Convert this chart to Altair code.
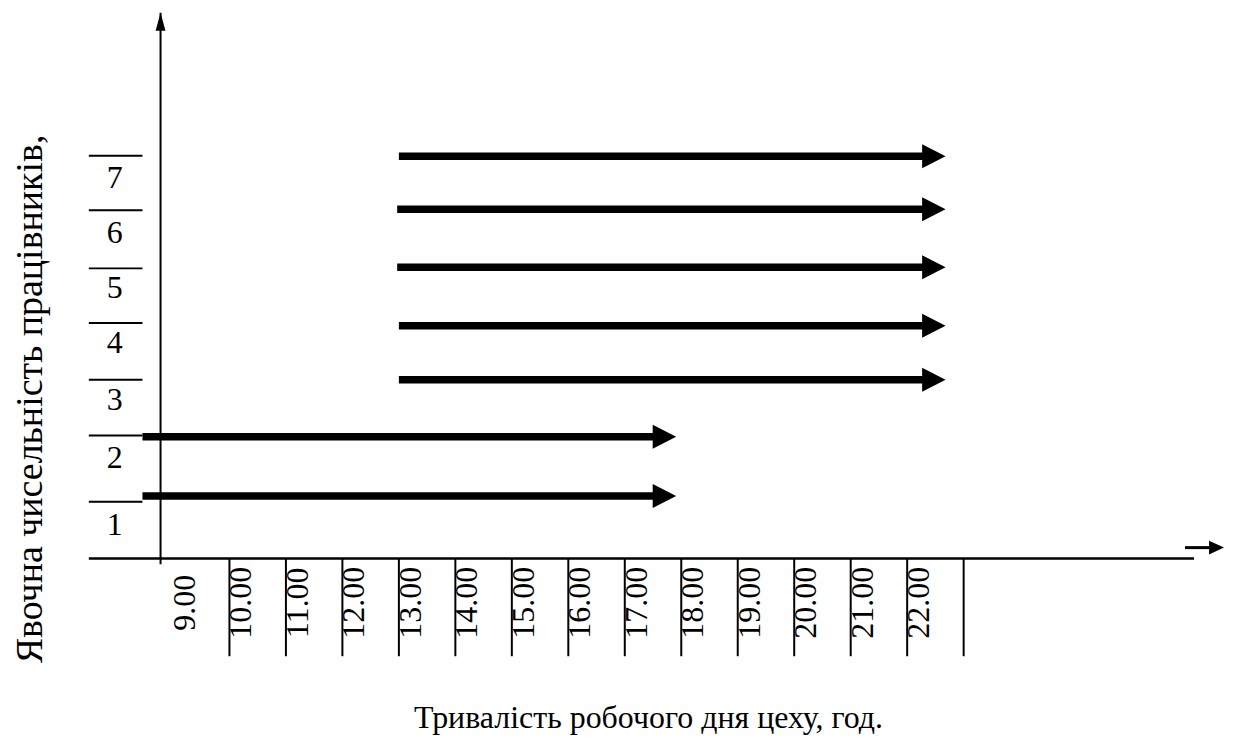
import altair as alt
import pandas as pd

# ---- data ----
row_numbers = ["1", "2", "3", "4", "5", "6", "7"]
row_label_level = [0.59, 1.75, 2.76, 3.75, 4.70, 5.66, 6.63]
row_top_level = [0.99, 2.14, 3.11, 4.10, 5.05, 6.06, 7.01]
arrow_level = [1.09, 2.12, 3.11, 4.05, 5.07, 6.08, 7.00]
arrow_start = [8.46, 8.46, 13.0, 13.0, 12.97, 12.97, 13.0]
arrow_end = [17.91, 17.91, 22.68, 22.68, 22.68, 22.68, 22.68]

hours = list(range(9, 23))
hour_labels = [f"{h}.00" for h in hours]
cell_edges = list(range(10, 24))

axis_left_hour = 7.51
axis_right_hour = 27.08
stub_right_hour = 8.46
y_axis_hour = 8.78
y_axis_bottom = -0.10
y_axis_top = 9.50
cell_bottom = -1.70
hour_label_level = -0.77

x_title = "Тривалість робочого дня цеху, год."
y_title = "Явочна чисельність працівників,"

FONT = "Liberation Serif, Times New Roman, serif"
W, H = 1222, 728

xs = alt.Scale(domain=[6.079, 27.663], nice=False, zero=False)
ys = alt.Scale(domain=[-3.073, 9.566], nice=False, zero=False)


def X(f="x"):
    return alt.X(f"{f}:Q", scale=xs, axis=None)


def Y(f="y"):
    return alt.Y(f"{f}:Q", scale=ys, axis=None)


# horizontal thin lines: x axis and row separators
hlines = pd.DataFrame(
    {"x": [axis_left_hour] * len(row_top_level), "x2": [stub_right_hour] * len(row_top_level), "y": row_top_level}
)
xaxis_df = pd.DataFrame({"x": [axis_left_hour], "x2": [axis_right_hour], "y": [0.0]})
vlines = pd.DataFrame({"x": cell_edges, "y": [0.0] * len(cell_edges), "y2": [cell_bottom] * len(cell_edges)})
yaxis_df = pd.DataFrame({"x": [y_axis_hour], "y": [y_axis_bottom], "y2": [y_axis_top]})

arrows = pd.DataFrame({"x": arrow_start, "x2": arrow_end, "y": arrow_level})
row_lbl = pd.DataFrame({"x": [7.97] * 7, "y": row_label_level, "t": row_numbers})
hour_lbl = pd.DataFrame({"x": hours, "y": [hour_label_level] * len(hours), "t": hour_labels})
small_arrow = pd.DataFrame({"x": [26.92], "x2": [27.61], "y": [0.19]})

row_sep = alt.Chart(hlines).mark_rule(color="black", strokeWidth=2).encode(x=X(), x2="x2:Q", y=Y())
x_axis = alt.Chart(xaxis_df).mark_rule(color="black", strokeWidth=2.5).encode(x=X(), x2="x2:Q", y=Y())
cells = alt.Chart(vlines).mark_rule(color="black", strokeWidth=2).encode(x=X(), y=Y(), y2="y2:Q")
y_axis = alt.Chart(yaxis_df).mark_rule(color="black", strokeWidth=2).encode(x=X(), y=Y(), y2="y2:Q")
y_head = alt.Chart(yaxis_df).mark_point(
    shape="M-0.55,1L0,-1L0.55,1Z", size=324, filled=True, color="black", opacity=1, strokeWidth=0, yOffset=9
).encode(x=X(), y=Y("y2"))

shafts = alt.Chart(arrows).mark_rule(color="black", strokeWidth=7.5, x2Offset=-20).encode(
    x=X(), x2="x2:Q", y=Y()
)
heads = alt.Chart(arrows).mark_point(
    shape="M-0.96,-1L1,0L-0.96,1Z", size=576, filled=True, color="black", opacity=1, strokeWidth=0, xOffset=-12
).encode(x=X("x2"), y=Y())

s_shaft = alt.Chart(small_arrow).mark_rule(color="black", strokeWidth=3, x2Offset=-12).encode(
    x=X(), x2="x2:Q", y=Y()
)
s_head = alt.Chart(small_arrow).mark_point(
    shape="M-1,-0.93L1,0L-1,0.93Z", size=225, filled=True, color="black", opacity=1, strokeWidth=0, xOffset=-7.5
).encode(x=X("x2"), y=Y())

row_text = alt.Chart(row_lbl).mark_text(
    font=FONT, fontSize=32, color="black", align="center", baseline="middle"
).encode(x=X(), y=Y(), text="t:N")
hour_text = alt.Chart(hour_lbl).mark_text(
    font=FONT, fontSize=32, color="black", align="center", baseline="middle", angle=270, dy=12
).encode(x=X(), y=Y(), text="t:N")

xt = alt.Chart(pd.DataFrame({"t": [x_title]})).mark_text(
    font=FONT, fontSize=32, color="black", align="center", baseline="middle"
).encode(x=alt.value(642), y=alt.value(711), text="t:N")
yt = alt.Chart(pd.DataFrame({"t": [y_title]})).mark_text(
    font=FONT, fontSize=38, color="black", align="center", baseline="middle", angle=270
).encode(x=alt.value(23), y=alt.value(391), text="t:N")

chart = (
    alt.layer(row_sep, x_axis, cells, y_axis, y_head, shafts, heads, s_shaft, s_head, row_text, hour_text, xt, yt)
    .properties(width=W, height=H, padding=0, autosize=alt.AutoSizeParams(type="none"), background="white")
    .configure_view(stroke=None)
)

chart.save("out.html", embed_options={"renderer": "svg", "actions": False})
